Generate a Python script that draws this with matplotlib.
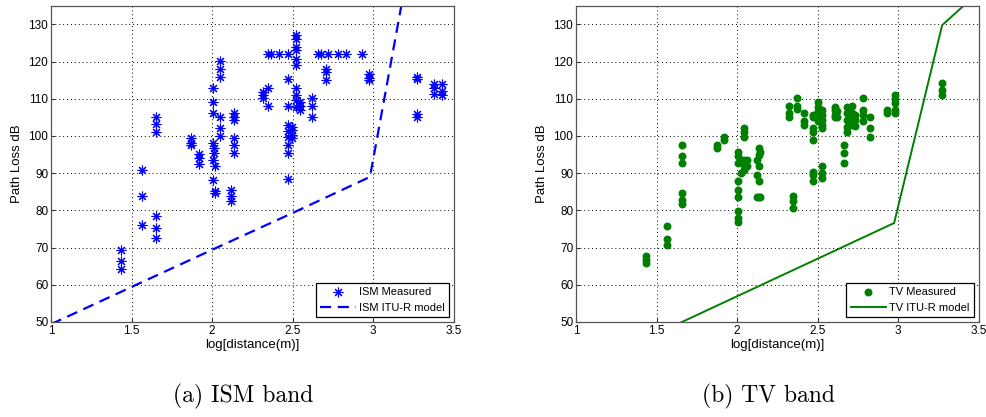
import matplotlib
matplotlib.use('Agg')
import matplotlib.pyplot as plt

plt.rcParams['font.family'] = ['Liberation Sans', 'DejaVu Sans']

# ISM band measurements: log10 distance vs path loss (dB)
ism_x = [1.434, 1.434, 1.434,
         1.562, 1.562, 1.562,
         1.649, 1.649, 1.649, 1.649, 1.649, 1.649,
         1.872, 1.872, 1.872, 1.919, 1.919, 1.919,
         2.006, 2.006, 2.006, 2.006, 2.010, 2.010, 2.006, 2.020, 2.006, 2.015, 2.015,
         2.048, 2.048, 2.048, 2.048, 2.048, 2.048,
         2.116, 2.116, 2.116,
         2.136, 2.136, 2.136, 2.136, 2.136, 2.136,
         2.316, 2.316, 2.316, 2.347, 2.347,
         2.347, 2.368, 2.415, 2.469,
         2.469, 2.469, 2.469, 2.469, 2.469, 2.469, 2.469, 2.469,
         2.496, 2.496, 2.496, 2.496,
         2.519, 2.519, 2.519, 2.519, 2.519, 2.519, 2.519, 2.519, 2.519, 2.519,
         2.543, 2.543, 2.543,
         2.618, 2.618, 2.618,
         2.657, 2.678, 2.719, 2.781, 2.833, 2.932,
         2.705, 2.705, 2.705,
         2.977, 2.977, 2.977,
         3.271, 3.271, 3.271, 3.271,
         3.380, 3.380, 3.380, 3.426, 3.426, 3.426]
ism_y = [69.3, 66.5, 64.1,
         90.9, 83.9, 76.1,
         105.2, 103.1, 101.2, 78.6, 75.2, 72.7,
         99.4, 98.0, 97.6, 95.2, 94.0, 92.4,
         113.0, 109.2, 106.1, 98.2, 96.7, 95.4, 93.6, 91.8, 88.2, 85.1, 84.6,
         120.1, 118.1, 115.9, 105.2, 102.2, 100.0,
         85.5, 83.8, 82.4,
         106.1, 105.2, 104.3, 99.4, 97.6, 95.4,
         111.9, 111.0, 110.1, 113.0, 108.0,
         122.0, 122.0, 122.0, 122.0,
         115.2, 108.0, 102.9, 101.3, 99.8, 97.6, 95.4, 88.4,
         102.5, 101.6, 100.3, 99.4,
         127.1, 126.2, 123.9, 123.0, 120.8, 119.0, 113.0, 111.0, 109.6, 107.9,
         109.2, 108.0, 106.9,
         110.1, 108.0, 105.2,
         122.0, 122.0, 122.0, 122.0, 122.0, 122.0,
         118.1, 117.2, 115.0,
         116.8, 115.7, 115.0,
         115.9, 115.2, 105.9, 105.2,
         114.1, 113.0, 111.2, 114.1, 112.1, 111.0]

# ISM ITU-R model
ism_model_x = [1.0, 1.5, 2.0, 2.5, 2.98, 3.2]
ism_model_y = [49.4, 59.4, 69.4, 79.3, 89.0, 141.0]

# TV band measurements
tv_x = [1.436, 1.436, 1.436,
        1.564, 1.564, 1.564,
        1.661, 1.661, 1.661, 1.661, 1.661, 1.661,
        1.874, 1.874, 1.919, 1.919,
        2.006, 2.006, 2.006, 2.006, 2.006, 2.006, 2.006, 2.006, 2.006,
        2.023, 2.023,
        2.045, 2.045, 2.045, 2.045, 2.045, 2.045,
        2.060, 2.060,
        2.122, 2.122, 2.122,
        2.138, 2.138, 2.138, 2.138, 2.138, 2.145, 2.145,
        2.322, 2.322, 2.322, 2.349, 2.349, 2.349,
        2.370, 2.370, 2.370,
        2.417, 2.417, 2.417,
        2.473, 2.473, 2.473, 2.473, 2.473, 2.473, 2.473, 2.473,
        2.504, 2.504, 2.504, 2.504, 2.504,
        2.525, 2.525, 2.525, 2.525, 2.525,
        2.529, 2.529, 2.529,
        2.607, 2.607, 2.607, 2.607, 2.620, 2.620,
        2.663, 2.663, 2.663,
        2.680, 2.680, 2.680, 2.680, 2.680,
        2.715, 2.715, 2.715, 2.715,
        2.731, 2.731, 2.731,
        2.783, 2.783, 2.783, 2.783,
        2.828, 2.828, 2.828,
        2.932, 2.932,
        2.979, 2.979, 2.979, 2.979, 2.979,
        3.273, 3.273, 3.273]
tv_y = [67.8, 66.7, 65.8,
        75.7, 72.3, 70.8,
        97.6, 94.7, 92.7, 84.6, 82.8, 81.8,
        97.6, 96.7, 99.8, 98.9,
        79.7, 77.9, 76.8, 95.8, 94.5, 92.7, 87.8, 85.5, 83.7,
        90.0, 93.6,
        102.1, 101.2, 99.8, 93.6, 92.2, 90.9,
        93.6, 91.8,
        93.6, 89.6, 83.7,
        96.7, 94.9, 91.8, 87.8, 83.7, 95.8, 83.7,
        108.1, 106.1, 105.2, 83.9, 82.4, 80.6,
        110.1, 108.1, 107.2,
        106.1, 103.9, 103.0,
        90.4, 89.6, 87.8, 102.1, 101.2, 98.8, 105.7, 105.0,
        109.2, 107.9, 106.6, 105.2, 103.9,
        107.0, 105.7, 104.3, 103.0, 102.1,
        91.8, 90.0, 88.7,
        107.9, 107.0, 105.7, 105.2, 106.6, 105.2,
        97.6, 95.5, 92.7,
        107.9, 106.1, 104.3, 102.5, 101.2,
        108.1, 106.1, 104.5, 103.0,
        105.7, 104.3, 102.7,
        110.1, 107.0, 105.7, 103.9,
        105.2, 102.1, 99.7,
        107.0, 106.1,
        111.0, 109.9, 108.8, 107.0, 106.1,
        114.2, 112.4, 111.0]

# TV ITU-R model
tv_model_x = [1.5, 2.0, 2.5, 2.975, 3.273, 3.5]
tv_model_y = [46.8, 56.9, 67.0, 76.6, 129.8, 138.7]

fig = plt.figure(figsize=(9.87, 4.17), dpi=100)
ax1 = fig.add_axes([0.0517, 0.228, 0.408, 0.758])
ax2 = fig.add_axes([0.5836, 0.228, 0.408, 0.758])

ax1.plot(ism_x, ism_y, linestyle='none', marker=(8, 2, 0), ms=7, mew=0.8,
         color='#0000ff', label='ISM Measured')
ax1.plot(ism_model_x, ism_model_y, '--', color='#0000ff', lw=1.6, dashes=(5, 3),
         label='ISM ITU-R model')

ax2.plot(tv_x, tv_y, linestyle='none', marker='o', ms=4.7,
         color='#008000', label='TV Measured')
ax2.plot(tv_model_x, tv_model_y, '-', color='#008000', lw=1.4,
         label='TV ITU-R model')

for ax in (ax1, ax2):
    ax.set_xlim(1, 3.5)
    ax.set_ylim(50, 135)
    ax.set_xticks([1, 1.5, 2, 2.5, 3, 3.5])
    ax.set_xticklabels(['1', '1.5', '2', '2.5', '3', '3.5'])
    ax.set_yticks(range(50, 131, 10))
    ax.grid(True, color='black', linestyle=(0, (1, 3)), linewidth=0.7)
    ax.tick_params(direction='in', labelsize=8.5, length=3, colors='#333333',
                   labelcolor='black', pad=2)
    for sp in ax.spines.values():
        sp.set_color('#555555')
        sp.set_linewidth(0.9)
    ax.set_xlabel('log[distance(m)]', fontsize=9.5, labelpad=2)
    ax.set_ylabel('Path Loss dB', fontsize=9.5, labelpad=4)
    leg = ax.legend(loc='lower right', fontsize=8, fancybox=False,
                    edgecolor='black', framealpha=1, borderaxespad=0.4,
                    handlelength=3.2, handletextpad=0.3, borderpad=0.4)
    leg.get_frame().set_linewidth(0.9)

fig.text(0.246, 0.05, '(a) ISM band', fontsize=17, family='cmr10',
         ha='center', va='center')
fig.text(0.779, 0.05, '(b) TV band', fontsize=17, family='cmr10',
         ha='center', va='center')

fig.savefig('out.png', dpi=100)
